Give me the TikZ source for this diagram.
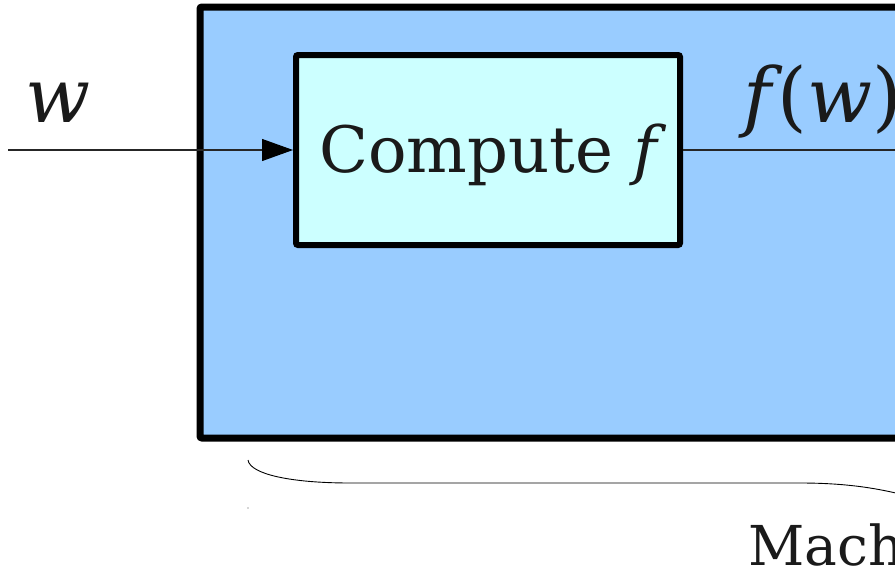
\documentclass[tikz,border=0pt]{standalone}
\usepackage{fontspec}
\setmainfont{DejaVu Serif}
\usetikzlibrary{arrows.meta}
\definecolor{outerblue}{HTML}{99CCFF}
\definecolor{innercyan}{HTML}{CCFFFF}
\definecolor{ink}{HTML}{1A1A1A}
\tikzset{
  machinebox/.style={draw=black, fill=outerblue, line width=7pt, rounded corners=2pt, inner sep=0pt},
  computebox/.style={draw=black, fill=innercyan, line width=6pt, rounded corners=2pt, inner sep=0pt,
    minimum width=384pt, minimum height=190pt, text=ink, text height=61pt, text depth=17pt,
    font=\fontsize{64}{70}\selectfont},
  wire/.style={draw=black!85, line width=1.1pt},
  biglabel/.style={text=ink, inner sep=0pt, font=\fontsize{76}{80}\selectfont},
  brace/.style={draw=black, line width=0.9pt},
}
\begin{document}
\begin{tikzpicture}[x=1pt, y=-1pt]
\useasboundingbox (0,0) rectangle (895,573);
\clip (0,0) rectangle (895,573);
\node[machinebox, minimum width=900pt, minimum height=431pt] (machine) at (650,222.5) {};
\node[computebox] (compute) at (488,150) {\hspace*{10pt}Compute \textit{f}};
\coordinate (in) at (8,150);
\coordinate (out) at (900,150);
\draw[wire, -{Triangle[length=31pt, width=22pt, fill=black, color=black]}] (in) -- (compute.west);
\draw[wire] (compute.east) -- (out);
\node[biglabel, anchor=base] (wlabel) at (58,122) {\textit{w}};
\node[biglabel, anchor=base west] (fwlabel) at (743,122) {\textit{f}\kern-5pt(\textit{w})};
\coordinate (bracestart) at (248,460);
\coordinate (braceend) at (900,494);
\draw[brace] (bracestart) .. controls (250,474) and (290,483) .. (350,483) -- (800,483) .. controls (845,483) and (875,488) .. (braceend);
\fill[black!70] (248,508) circle (0.7pt);
\node[text=ink, inner sep=0pt, anchor=base west, font=\fontsize{55}{60}\selectfont] (machlabel) at (748,565) {Mach};
\end{tikzpicture}
\end{document}
